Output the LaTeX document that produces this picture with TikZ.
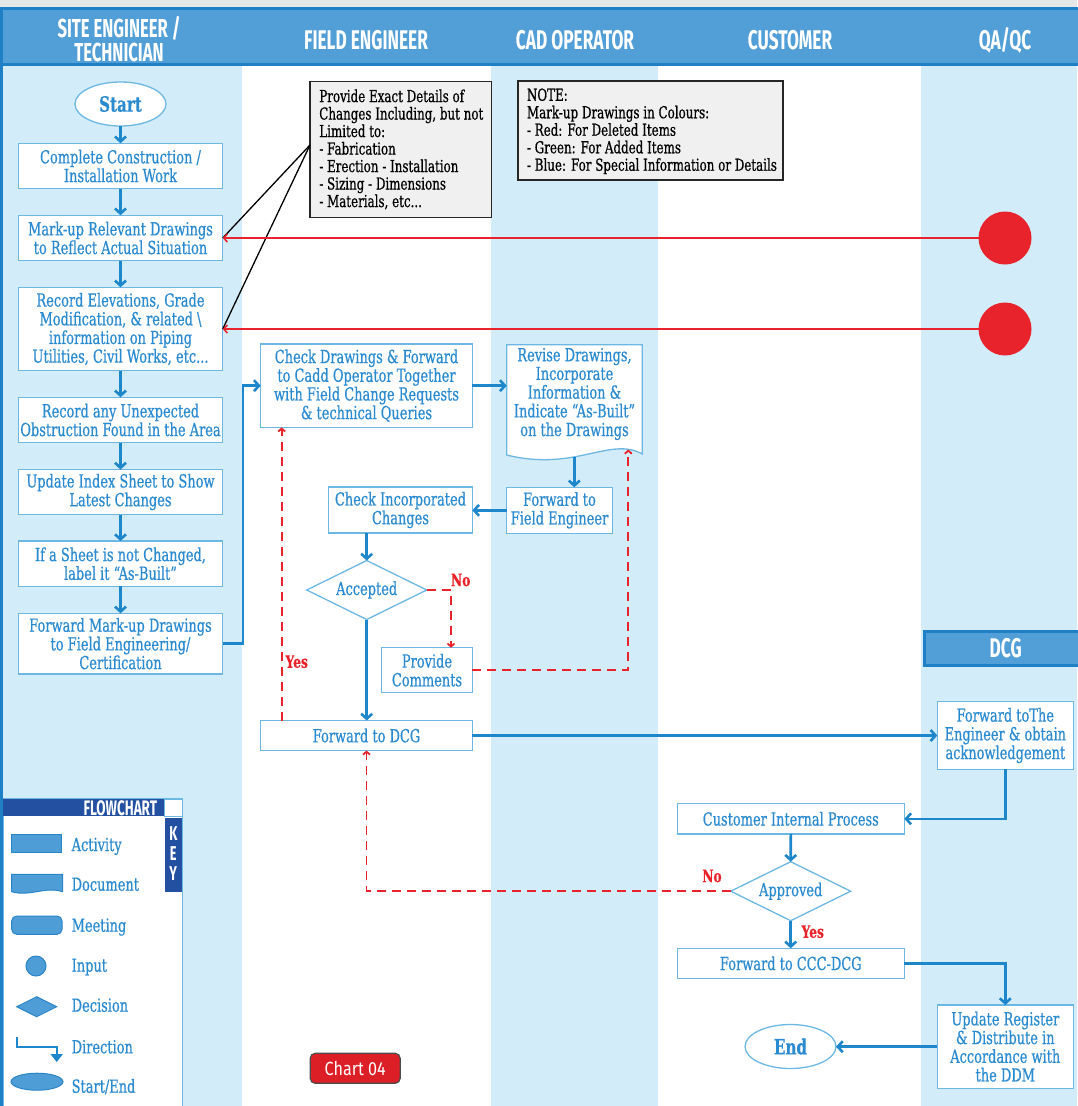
\documentclass[tikz,border=0pt]{standalone}
\usepackage{fontspec}
\usetikzlibrary{arrows.meta,shapes.geometric,calc}

\newfontfamily\bodyfont[FakeStretch=0.72,FakeBold=0.6]{DejaVu Serif}
\newfontfamily\headfont[FakeStretch=0.64]{Fira Sans}
\newfontfamily\badgefont[FakeStretch=0.85]{Fira Sans}

\definecolor{hdrblue}{HTML}{519FD6}
\definecolor{hdrline}{HTML}{1F80C6}
\definecolor{lanebg}{HTML}{D2ECF9}
\definecolor{boxline}{HTML}{6CB8E2}
\definecolor{txtblue}{HTML}{2B8BD1}
\definecolor{flowblue}{HTML}{1E86CB}
\definecolor{alertred}{HTML}{E8232B}
\definecolor{notegray}{HTML}{F0F0F0}
\definecolor{keynavy}{HTML}{2350A0}
\definecolor{keyfill}{HTML}{4F9DD6}
\definecolor{keyline}{HTML}{2A85C8}
\definecolor{badgered}{HTML}{DC1F26}
\definecolor{topgray}{HTML}{E6E7E8}

\begin{document}
\begin{tikzpicture}[x=1pt,y=-1pt,
  every node/.style={inner sep=0pt,outer sep=0pt},
  bodytxt/.style={font=\bodyfont\fontsize{18}{18.7}\selectfont},
  notetxt/.style={font=\bodyfont\fontsize{16.5}{17.5}\selectfont, text=black, align=left, anchor=north west},
  hdrtxt/.style={font=\headfont\bfseries\fontsize{27}{23}\selectfont, text=white, align=center},
  act/.style 2 args={rectangle, draw=boxline, line width=1.3pt, fill=white, text=txtblue, bodytxt, align=center, minimum width=#1pt, minimum height=#2pt},
  dec/.style={diamond, draw=boxline, line width=1.3pt, fill=white, minimum width=120pt, minimum height=59pt},
  term/.style={ellipse, draw=boxline, line width=1.3pt, fill=white, minimum width=91pt, minimum height=44pt},
  intxt/.style={text=txtblue, bodytxt, align=center},
  termtxt/.style={text=txtblue, font=\bodyfont\bfseries\fontsize{21}{22}\selectfont},
  flow/.style={draw=flowblue, line width=2.6pt, -{Straight Barb[length=5pt,width=11pt]}},
  dashback/.style={draw=alertred, line width=1.8pt, dash pattern=on 9pt off 6pt, -{Straight Barb[length=3pt,width=7pt]}},
  redlink/.style={draw=alertred, line width=1.6pt, -{Straight Barb[length=3.5pt,width=8pt]}},
  leader/.style={draw=black, line width=1.3pt},
  notebox/.style 2 args={draw=black!85, line width=1.5pt, fill=notegray, minimum width=#1pt, minimum height=#2pt},
  verdict/.style={text=alertred, font=\bodyfont\bfseries\fontsize{17}{18}\selectfont},
  keyshape/.style={draw=keyline, line width=1pt, fill=keyfill},
  keytxt/.style={text=txtblue, bodytxt, anchor=base west},
  keyhead/.style={text=white, font=\headfont\bfseries\fontsize{20}{20}\selectfont},
]
\useasboundingbox (0,0) rectangle (1077,1106);

% swimlane backgrounds
\fill[lanebg] (0,66) rectangle (242,1106);
\fill[lanebg] (491,66) rectangle (658,1106);
\fill[lanebg] (921,66) rectangle (1077,1106);

% header band
\fill[topgray] (0,0) rectangle (1077,7);
\draw[hdrline, line width=3pt, fill=hdrblue] (-2,8.5) rectangle (1080,64.5);
\draw[hdrline, line width=3pt] (1.5,8.5) -- (1.5,1110);

\node[hdrtxt, font=\headfont\bfseries\fontsize{26}{24}\selectfont] (h1) at (119,39.5) {SITE ENGINEER /\\TECHNICIAN};
\node[hdrtxt] (h2) at (366,40) {FIELD ENGINEER};
\node[hdrtxt] (h3) at (575,40) {CAD OPERATOR};
\node[hdrtxt] (h4) at (790,40) {CUSTOMER};
\node[hdrtxt] (h5) at (1005,40) {QA/QC};

% DCG sub-header
\draw[hdrline, line width=3pt, fill=hdrblue] (924.5,631.5) rectangle (1080,665.5);
\node[hdrtxt] (dcg) at (1005.7,648) {DCG};

% site engineer / technician column
\node[term] (st) at (120.5,104) {};
\node[termtxt] (stt) at (st) {Start};
\node[act={204.5}{45.5}] (b1) at (120.5,166) {Complete Construction /\\Installation Work};
\node[act={204.5}{45.5}] (b2) at (120.5,238) {Mark-up Relevant Drawings\\to Reflect Actual Situation};
\node[act={204.5}{83.4}] (b3) at (120.5,329) {Record Elevations, Grade\\Modification, \& related \textbackslash\\information on Piping\\Utilities, Civil Works, etc...};
\node[act={204.5}{45.4}] (b4) at (120.5,420) {Record any Unexpected\\Obstruction Found in the Area};
\node[act={204.5}{45}] (b5) at (120.5,492) {Update Index Sheet to Show\\Latest Changes};
\node[act={204.5}{45.3}] (b6) at (120.5,563.7) {If a Sheet is not Changed,\\label it “As-Built”};
\node[act={204.5}{60.7}] (b7) at (120.5,643.7) {Forward Mark-up Drawings\\to Field Engineering/\\Certification};

% field engineer column
\node[act={211.6}{83.3}] (cd) at (366.5,385.7) {Check Drawings \& Forward\\to Cadd Operator Together\\with Field Change Requests\\\& technical Queries};
\node[act={143.6}{46}] (ci) at (400.5,510) {Check Incorporated\\Changes};
\node[dec] (acc) at (366.7,590) {};
\node[intxt] (acct) at (acc) {Accepted};
\node[act={90.6}{45}] (pc) at (427,670.2) {Provide\\Comments};
\node[act={211.6}{30}] (fd) at (366.5,735.5) {Forward to DCG};

% CAD operator column
\node[minimum width=135.6pt, minimum height=110.3pt] (rv) at (574.5,399.8) {};
\draw[draw=boxline, line width=1.3pt, fill=white] (506.7,455) -- (506.7,344.7) -- (642.3,344.7) -- (642.3,454)
  .. controls (610,436) and (575,472) .. (506.7,455) -- cycle;
\node[intxt] (rvt) at (574.5,394) {Revise Drawings,\\Incorporate\\Information \&\\Indicate “As-Built”\\on the Drawings};
\coordinate (rvb1) at (574.3,457);
\coordinate (rvb2) at (628.3,449.5);
\node[act={105.6}{46}] (ffe) at (559.5,510.3) {Forward to\\Field Engineer};

% customer and QA/QC columns
\node[act={136}{67.6}] (fte) at (1005.3,735.5) {Forward toThe\\Engineer \& obtain\\acknowledgement};
\node[act={227}{30.3}] (cip) at (790.8,818.8) {Customer Internal Process};
\node[dec] (ap) at (790.7,891.2) {};
\node[intxt] (apt) at (ap) {Approved};
\node[act={227}{30}] (fc) at (790.8,963.3) {Forward to CCC-DCG};
\node[act={136}{83.3}] (ur) at (1005.3,1046.7) {Update Register\\\& Distribute in\\Accordance with\\the DDM};
\node[term] (en) at (790.5,1046.5) {};
\node[termtxt] (ent) at (en) {End};

% red markers in QA/QC lane
\node[circle, fill=alertred, minimum size=53pt] (m1) at (1005,238) {};
\node[circle, fill=alertred, minimum size=53pt] (m2) at (1005,329) {};

% notes
\node[notebox={181.7}{136}] (ne) at (400.85,149.3) {};
\node[notetxt] (net) at (319.3,89.5) {Provide Exact Details of\\Changes Including, but not\\Limited to:\\- Fabrication\\- Erection - Installation\\- Sizing - Dimensions\\- Materials, etc...};
\node[notebox={265}{99}] (nt) at (650.5,130.5) {};
\node[notetxt] (ntt) at (527,88.5) {NOTE:\\Mark-up Drawings in Colours:\\- Red: For Deleted Items\\- Green: For Added Items\\- Blue: For Special Information or Details};
\coordinate (tip) at ($(ne.west)+(0,-4.3)$);
\draw[leader] (tip) -- (b2.east);
\draw[leader] (tip) -- (b3.east);

% main flow
\draw[flow] (st) -- (b1);
\draw[flow] (b1) -- (b2);
\draw[flow] (b2) -- (b3);
\draw[flow] (b3) -- (b4);
\draw[flow] (b4) -- (b5);
\draw[flow] (b5) -- (b6);
\draw[flow] (b6) -- (b7);
\draw[flow] (b7.east) -- ++(20.3,0) |- (cd.west);
\draw[flow] (cd.east) -- (cd.east -| rv.west);
\draw[flow] (rvb1) -- (rvb1 |- ffe.north);
\draw[flow] (ffe.west) -- (ffe.west -| ci.east);
\draw[flow] (acc.north |- ci.south) -- (acc.north);
\draw[flow] (acc.south) -- (acc.south |- fd.north);
\draw[flow] (fd.east) -- (fd.east -| fte.west);
\draw[flow] (fte.south) |- (cip.east);
\draw[flow] (cip.south) -- (ap.north);
\draw[flow] (ap.south) -- (ap.south |- fc.north);
\draw[flow] (fc.east) -| (ur.north);
\draw[flow] (ur.west) -- (ur.west -| en.east);

% return paths
\draw[dashback] (acc.east) -| ($(pc.north)+(24,0)$);
\draw[dashback] (pc.east) -| (rvb2);
\draw[dashback] ($(fd.north)+(-84.8,0)$) -- ($(cd.south)+(-84.8,0)$);
\draw[dashback] (ap.west) -| (fd.south);
\node[verdict] (no1) at (460.7,580) {No};
\node[verdict] (yes1) at (296.7,661.7) {Yes};
\node[verdict] (no2) at (712,876) {No};
\node[verdict] (yes2) at (812.7,931.7) {Yes};

% marker links
\draw[redlink] (m1.west) -- (b2.east);
\draw[redlink] (m2.west) -- (b3.east);

% flowchart key
\draw[boxline, line width=1.5pt, fill=white] (3.3,798.3) rectangle (182.7,1112);
\fill[keynavy] (3.3,799) rectangle (164,816);
\draw[boxline, line width=1pt] (164,799) rectangle (182.7,816);
\fill[keynavy] (164.7,818) rectangle (182,891.7);
\node[keyhead, anchor=east, font=\headfont\bfseries\fontsize{21}{21}\selectfont] (kt) at (157,808) {FLOWCHART};
\node[keyhead] (k1) at (173.3,833.3) {K};
\node[keyhead] (k2) at (173.3,854) {E};
\node[keyhead] (k3) at (173.3,873.3) {Y};

\draw[keyshape] (11.7,834.3) rectangle (61.7,852.7);
\draw[keyshape] (11.7,891.7) -- (11.7,874.3) -- (62.7,874.3) -- (62.7,891.7)
  .. controls (45,886) and (30,897) .. (11.7,891.7) -- cycle;
\draw[keyshape, rounded corners=5pt] (11.7,916) rectangle (62,934.3);
\draw[keyshape] (36,966) circle (10);
\draw[keyshape] (16.7,1006.7) -- (36.7,996.7) -- (56.7,1006.7) -- (36.7,1016.7) -- cycle;
\draw[flowblue, line width=2pt, -{Triangle[length=8pt,width=12pt]}] (16.7,1036.7) -- (16.7,1046.7) -- (56.7,1046.7) -- (56.7,1062);
\draw[keyshape] (37,1081.7) ellipse [x radius=26, y radius=8.5];

\node[keytxt] (l1) at (71.7,851) {Activity};
\node[keytxt] (l2) at (71.7,890.7) {Document};
\node[keytxt] (l3) at (71.7,931.7) {Meeting};
\node[keytxt] (l4) at (71.7,971.7) {Input};
\node[keytxt] (l5) at (71.7,1011.7) {Decision};
\node[keytxt] (l6) at (71.7,1053.3) {Direction};
\node[keytxt] (l7) at (71.7,1092.7) {Start/End};

% chart tag
\node[draw=black!70, line width=1.2pt, fill=badgered, rounded corners=5pt, minimum width=90pt, minimum height=30pt,
  text=white, font=\badgefont\fontsize{19}{20}\selectfont] (chart) at (355.2,1068.3) {Chart 04};

\end{tikzpicture}
\end{document}
